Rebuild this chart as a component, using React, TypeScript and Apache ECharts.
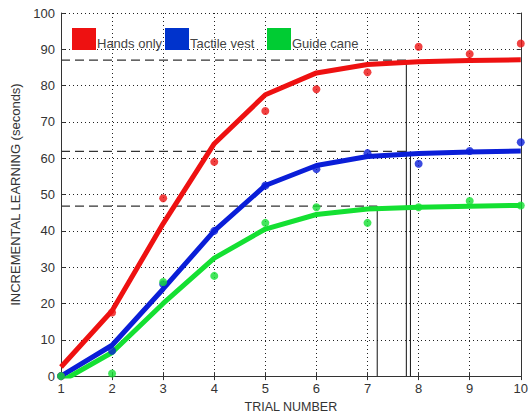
import React, { useEffect, useRef } from "react";
import * as echarts from "echarts";

const trials = [1, 2, 3, 4, 5, 6, 7, 8, 9, 10];
const yTicks = [0, 10, 20, 30, 40, 50, 60, 70, 80, 90, 100];

const handsFit = [2.5, 18, 42, 64, 77.5, 83.5, 85.8, 86.6, 86.9, 87.1];
const vestFit = [0, 8.5, 24, 40, 52.5, 58, 60.5, 61.3, 61.7, 62];
const caneFit = [-1.5, 6.5, 20, 32.5, 40.5, 44.5, 46, 46.5, 46.8, 47];

const handsObs = [0, 17.5, 49, 59, 73, 79, 83.7, 90.7, 88.7, 91.6];
const vestObs = [0, 7, 25.3, 40, 52.5, 57, 61.4, 58.5, 62, 64.4];
const caneObs = [0, 0.7, 25.9, 27.6, 42.2, 46.5, 42.2, 46.5, 48.2, 47];

const plateau = { hands: 87, vest: 61.9, cane: 46.8 };
const plateauTrial = { hands: 7.76, vest: 7.84, cane: 7.19 };

const names = ["Hands only", "Tactile vest", "Guide cane"];
const colors = ["#ee1111", "#0a1ed8", "#14e032"];
const legendColors = ["#ee1111", "#0033cc", "#00cc33"];

const FONT = "'Liberation Sans', Arial, sans-serif";

export default function App() {
  const ref = useRef<HTMLDivElement>(null);
  useEffect(() => {
    const chart = echarts.init(ref.current!, null, { renderer: "svg" });
    const fits = [handsFit, vestFit, caneFit];
    const obs = [handsObs, vestObs, caneObs];
    const keys: ("hands" | "vest" | "cane")[] = ["hands", "vest", "cane"];
    const series: any[] = [];
    keys.forEach((k, i) => {
      series.push({
        type: "line",
        name: names[i] + " fit",
        data: trials.map((t, j) => [t, fits[i][j]]),
        showSymbol: false,
        lineStyle: { color: colors[i], width: 5 },
        z: 3,
      });
      series.push({
        type: "scatter",
        name: names[i],
        data: trials.map((t, j) => [t, obs[i][j]]),
        symbolSize: 8,
        itemStyle: { color: colors[i] },
        z: 4,
      });
      series.push({
        type: "line",
        data: [
          [1, plateau[k]],
          [plateauTrial[k], plateau[k]],
        ],
        showSymbol: false,
        lineStyle: { color: "#333", width: 1.2, type: [9, 5] },
        z: 2,
      });
      series.push({
        type: "line",
        data: [
          [plateauTrial[k], 0],
          [plateauTrial[k], plateau[k]],
        ],
        showSymbol: false,
        lineStyle: { color: "#111", width: 1 },
        z: 2,
      });
    });

    const graphic: any[] = [];
    const legendX = [72, 165, 267];
    names.forEach((n, i) => {
      graphic.push({
        type: "rect",
        shape: { x: legendX[i], y: 28, width: 24, height: 22 },
        style: { fill: legendColors[i] },
        z: 10,
      });
      graphic.push({
        type: "text",
        x: legendX[i] + 25,
        y: 50,
        style: {
          text: n,
          fill: "#444",
          font: "13px " + FONT,
          textVerticalAlign: "bottom",
        },
        z: 10,
      });
    });

    chart.setOption({
      animation: false,
      backgroundColor: "#fff",
      grid: { left: 61, right: 5, top: 13, bottom: 41, show: false },
      xAxis: [
        {
          type: "value",
          min: 1,
          max: 10,
          interval: 1,
          name: "TRIAL NUMBER",
          nameLocation: "middle",
          nameGap: 22,
          nameTextStyle: { color: "#333", fontSize: 12.5, fontFamily: FONT },
          axisLine: { show: true, onZero: false, lineStyle: { color: "#333", width: 1 } },
          axisTick: { show: true, inside: true, length: 4, lineStyle: { color: "#333" } },
          axisLabel: { color: "#333", fontSize: 13, margin: 6, fontFamily: FONT },
          splitLine: { show: true, lineStyle: { color: "#222", type: [1, 3], width: 1 } },
        },
        {
          type: "value",
          position: "top",
          min: 1,
          max: 10,
          interval: 1,
          axisLine: { show: true, lineStyle: { color: "#333", width: 1 } },
          axisTick: { show: true, inside: true, length: 4, lineStyle: { color: "#333" } },
          axisLabel: { show: false },
          splitLine: { show: false },
        },
      ],
      yAxis: [
        {
          type: "value",
          min: 0,
          max: 100,
          interval: 10,
          name: "INCREMENTAL LEARNING (seconds)",
          nameLocation: "middle",
          nameGap: 34,
          nameTextStyle: { color: "#333", fontSize: 13, fontFamily: FONT },
          axisLine: { show: true, onZero: false, lineStyle: { color: "#333", width: 1 } },
          axisTick: { show: true, inside: true, length: 4, lineStyle: { color: "#333" } },
          axisLabel: { color: "#333", fontSize: 13, margin: 6, fontFamily: FONT },
          splitLine: { show: true, lineStyle: { color: "#222", type: [1, 3], width: 1 } },
        },
        {
          type: "value",
          position: "right",
          min: 0,
          max: 100,
          interval: 10,
          axisLine: { show: true, lineStyle: { color: "#333", width: 1 } },
          axisTick: { show: true, inside: true, length: 4, lineStyle: { color: "#333" } },
          axisLabel: { show: false },
          splitLine: { show: false },
        },
      ],
      series,
      graphic,
    });
    return () => chart.dispose();
  }, []);
  return (
    <div
      ref={ref}
      style={{ position: "fixed", left: 0, top: 0, width: 531, height: 418 }}
    />
  );
}
